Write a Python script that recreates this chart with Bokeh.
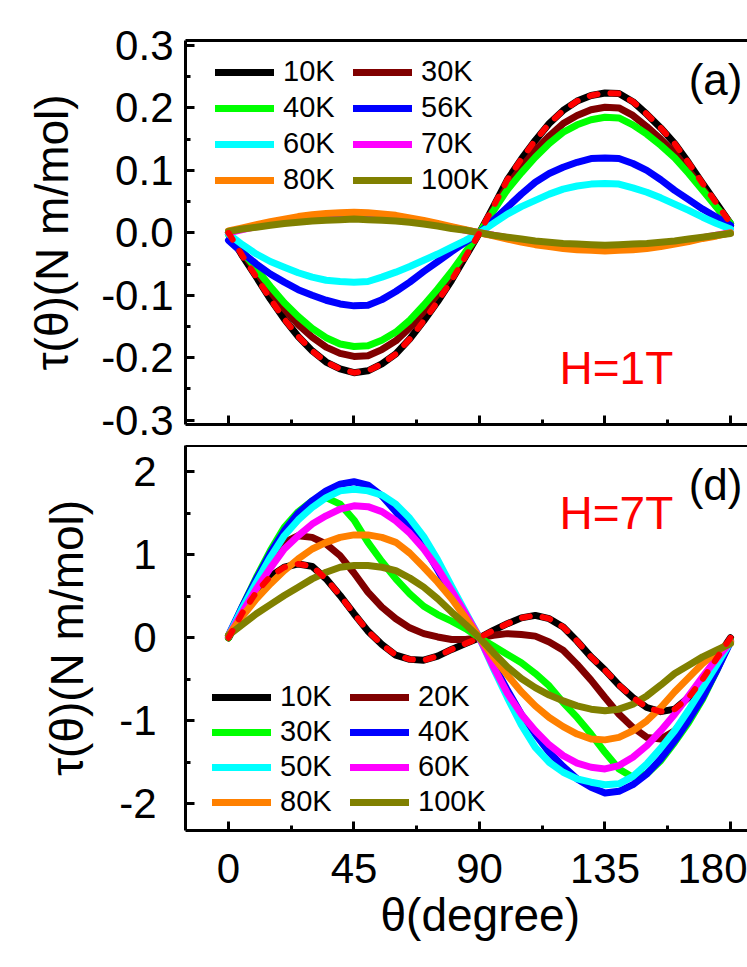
from bokeh.plotting import figure
from bokeh.models import (Range1d, FixedTicker, LinearAxis, Legend, LegendItem, Label,
                          CustomJSTickFormatter, Title)
from bokeh.layouts import column
from bokeh.embed import file_html
from bokeh.resources import INLINE

# ---------------- data ----------------
theta = [0, 5, 10, 15, 20, 25, 30, 35, 40, 45, 50, 55, 60, 65, 70, 75, 80, 85, 90,
         95, 100, 105, 110, 115, 120, 125, 130, 135, 140, 145, 150, 155, 160, 165, 170, 175, 180]

# H = 1T panel (a)
labels_1T = ["10K", "30K", "40K", "56K", "60K", "70K", "80K", "100K"]
t1_10K = [0.000, -0.037, -0.071, -0.106, -0.138, -0.166, -0.189, -0.207, -0.218, -0.224, -0.221, -0.210, -0.194, -0.170, -0.141, -0.110, -0.076, -0.038, 0.000,
          0.042, 0.085, 0.118, 0.148, 0.175, 0.196, 0.211, 0.220, 0.224, 0.223, 0.210, 0.190, 0.168, 0.143, 0.112, 0.079, 0.047, 0.015]
t1_30K = [0.000, -0.032, -0.063, -0.094, -0.122, -0.147, -0.167, -0.183, -0.193, -0.198, -0.197, -0.187, -0.173, -0.152, -0.126, -0.098, -0.068, -0.034, 0.000,
          0.038, 0.075, 0.105, 0.132, 0.155, 0.175, 0.188, 0.197, 0.201, 0.200, 0.188, 0.170, 0.150, 0.128, 0.100, 0.071, 0.042, 0.012]
t1_40K = [-0.003, -0.030, -0.058, -0.086, -0.112, -0.134, -0.153, -0.168, -0.178, -0.182, -0.181, -0.172, -0.159, -0.140, -0.116, -0.090, -0.062, -0.031, 0.000,
          0.035, 0.069, 0.096, 0.121, 0.143, 0.161, 0.173, 0.181, 0.185, 0.184, 0.173, 0.158, 0.140, 0.120, 0.095, 0.068, 0.041, 0.015]
t1_56K = [-0.012, -0.032, -0.050, -0.066, -0.079, -0.091, -0.100, -0.108, -0.114, -0.117, -0.116, -0.107, -0.094, -0.079, -0.062, -0.046, -0.030, -0.015, 0.000,
          0.020, 0.041, 0.062, 0.081, 0.095, 0.105, 0.113, 0.119, 0.120, 0.119, 0.111, 0.100, 0.085, 0.068, 0.053, 0.038, 0.025, 0.012]
t1_60K = [-0.002, -0.019, -0.034, -0.046, -0.055, -0.064, -0.071, -0.076, -0.078, -0.079, -0.078, -0.071, -0.063, -0.054, -0.044, -0.034, -0.023, -0.012, 0.000,
          0.015, 0.030, 0.042, 0.052, 0.062, 0.070, 0.075, 0.078, 0.079, 0.078, 0.072, 0.065, 0.056, 0.046, 0.036, 0.025, 0.015, 0.006]
t1_70K = [0.000, 0.005, 0.010, 0.014, 0.018, 0.021, 0.024, 0.026, 0.027, 0.028, 0.027, 0.026, 0.024, 0.021, 0.017, 0.013, 0.009, 0.004, 0.000,
          -0.004, -0.008, -0.012, -0.016, -0.019, -0.022, -0.024, -0.025, -0.026, -0.025, -0.024, -0.022, -0.019, -0.016, -0.012, -0.008, -0.004, 0.000]
t1_80K = [0.003, 0.008, 0.013, 0.018, 0.022, 0.026, 0.029, 0.031, 0.032, 0.033, 0.032, 0.030, 0.028, 0.024, 0.020, 0.015, 0.010, 0.005, 0.000,
          -0.005, -0.010, -0.015, -0.019, -0.022, -0.025, -0.027, -0.028, -0.029, -0.028, -0.027, -0.025, -0.022, -0.018, -0.014, -0.009, -0.005, 0.000]
t1_100K = [0.002, 0.006, 0.009, 0.012, 0.015, 0.017, 0.019, 0.020, 0.021, 0.022, 0.021, 0.020, 0.019, 0.017, 0.014, 0.011, 0.007, 0.004, 0.000,
           -0.004, -0.007, -0.010, -0.013, -0.015, -0.017, -0.018, -0.019, -0.020, -0.019, -0.018, -0.017, -0.015, -0.013, -0.010, -0.007, -0.004, -0.001]
fit_1T = t1_10K  # red dashed fit follows the 10K curve

# H = 7T panel (d)
labels_7T = ["10K", "20K", "30K", "40K", "50K", "60K", "80K", "100K"]
t7_10K = [0.00, 0.30, 0.55, 0.74, 0.85, 0.89, 0.86, 0.71, 0.51, 0.29, 0.08, -0.08, -0.21, -0.26, -0.27, -0.22, -0.14, -0.07, 0.00,
          0.09, 0.17, 0.24, 0.27, 0.23, 0.13, -0.04, -0.23, -0.39, -0.57, -0.72, -0.84, -0.89, -0.86, -0.72, -0.50, -0.25, 0.00]
t7_20K = [0.00, 0.33, 0.62, 0.92, 1.15, 1.23, 1.21, 1.13, 0.99, 0.78, 0.55, 0.37, 0.23, 0.12, 0.05, 0.01, -0.02, -0.02, 0.00,
          0.03, 0.05, 0.04, 0.02, -0.05, -0.15, -0.32, -0.51, -0.72, -0.92, -1.08, -1.20, -1.22, -1.12, -0.92, -0.62, -0.32, -0.03]
t7_30K = [0.00, 0.38, 0.73, 1.05, 1.33, 1.52, 1.65, 1.69, 1.61, 1.42, 1.15, 0.92, 0.71, 0.53, 0.38, 0.28, 0.20, 0.11, 0.00,
          -0.10, -0.20, -0.30, -0.43, -0.58, -0.78, -0.96, -1.16, -1.38, -1.58, -1.68, -1.64, -1.48, -1.26, -1.02, -0.74, -0.40, -0.03]
t7_40K = [0.03, 0.38, 0.71, 1.02, 1.29, 1.50, 1.65, 1.77, 1.85, 1.88, 1.84, 1.71, 1.52, 1.32, 1.10, 0.82, 0.52, 0.26, 0.00,
          -0.32, -0.63, -0.92, -1.16, -1.38, -1.55, -1.70, -1.80, -1.87, -1.85, -1.77, -1.64, -1.46, -1.24, -0.99, -0.72, -0.40, -0.05]
t7_50K = [0.02, 0.36, 0.67, 0.97, 1.23, 1.42, 1.57, 1.69, 1.77, 1.79, 1.77, 1.72, 1.61, 1.44, 1.22, 0.94, 0.62, 0.31, 0.00,
          -0.37, -0.72, -1.05, -1.32, -1.50, -1.62, -1.70, -1.74, -1.77, -1.76, -1.67, -1.52, -1.33, -1.12, -0.87, -0.60, -0.33, -0.05]
t7_60K = [0.02, 0.31, 0.59, 0.84, 1.07, 1.23, 1.37, 1.47, 1.55, 1.59, 1.58, 1.52, 1.41, 1.26, 1.07, 0.84, 0.57, 0.29, 0.00,
          -0.35, -0.67, -0.92, -1.12, -1.29, -1.42, -1.51, -1.56, -1.58, -1.54, -1.44, -1.30, -1.12, -0.92, -0.70, -0.47, -0.25, -0.05]
t7_80K = [0.03, 0.26, 0.47, 0.65, 0.81, 0.95, 1.07, 1.15, 1.21, 1.24, 1.24, 1.21, 1.15, 1.02, 0.85, 0.67, 0.47, 0.24, 0.00,
          -0.23, -0.45, -0.65, -0.82, -0.96, -1.07, -1.16, -1.22, -1.23, -1.20, -1.12, -1.00, -0.84, -0.65, -0.48, -0.31, -0.17, -0.05]
t7_100K = [0.03, 0.16, 0.29, 0.40, 0.51, 0.61, 0.71, 0.79, 0.85, 0.87, 0.87, 0.85, 0.81, 0.72, 0.61, 0.47, 0.31, 0.16, 0.00,
           -0.18, -0.35, -0.49, -0.60, -0.69, -0.76, -0.82, -0.86, -0.88, -0.86, -0.80, -0.70, -0.57, -0.43, -0.33, -0.23, -0.15, -0.07]
fit_7T = t7_10K  # red dashed fit follows the 10K curve

colors_1T = ["#000000", "#800000", "#00FF00", "#0000FF", "#00FFFF", "#FF00FF", "#FF8000", "#808000"]
colors_7T = ["#000000", "#800000", "#00FF00", "#0000FF", "#00FFFF", "#FF00FF", "#FF8000", "#808000"]

x_ticks = [0, 45, 90, 135, 180]
x_minor = [22.5, 67.5, 112.5, 157.5]
x_tick_labels = ["0", "45", "90", "135", "180"]
y1_ticks = [-0.3, -0.2, -0.1, 0.0, 0.1, 0.2, 0.3]
y1_minor = [-0.25, -0.15, -0.05, 0.05, 0.15, 0.25]
y1_tick_labels = ["-0.3", "-0.2", "-0.1", "0.0", "0.1", "0.2", "0.3"]
y7_ticks = [-2, -1, 0, 1, 2]
y7_minor = [-1.5, -0.5, 0.5, 1.5]
y7_tick_labels = ["-2", "-1", "0", "1", "2"]

FONT = "Liberation Sans"
LW = 7


def style_axes(p, ylab_standoff, ylab_axis_standoff):
    p.outline_line_color = None
    p.grid.visible = False
    p.background_fill_color = "white"
    p.border_fill_color = "white"
    for ax in p.xaxis + p.yaxis:
        ax.axis_line_width = 3
        ax.major_tick_line_width = 3
        ax.minor_tick_line_width = 3
        ax.major_tick_in = 9
        ax.major_tick_out = 0
        ax.minor_tick_in = 5
        ax.minor_tick_out = 0
        ax.major_label_text_font = FONT
        ax.major_label_text_font_size = "42px"
        ax.major_label_text_color = "black"
        ax.axis_label_text_font = FONT
        ax.axis_label_text_font_style = "normal"
        ax.axis_label_text_font_size = "46px"
        ax.axis_label_text_color = "black"
    p.yaxis.major_label_standoff = ylab_standoff
    p.yaxis.axis_label_standoff = ylab_axis_standoff
    top = LinearAxis(ticker=FixedTicker(ticks=[]), major_tick_in=0, major_tick_out=0,
                     minor_tick_in=0, minor_tick_out=0, axis_line_width=3,
                     major_label_text_font_size="1px", major_label_text_color=None,
                     major_label_standoff=0)
    p.add_layout(top, "above")


def make_legend(renderers, labels, vx, vy, spacing):
    items = [LegendItem(label=l, renderers=[r]) for l, r in zip(labels, renderers)]
    return Legend(items=items, location=(vx, vy), orientation="vertical",
                  glyph_width=59, glyph_height=30, label_height=30, spacing=spacing,
                  label_standoff=9, padding=0, margin=0, border_line_color=None,
                  background_fill_alpha=0, label_text_font=FONT,
                  label_text_font_size="29px", label_text_color="black")


X_RANGE = (-15.42, 186.1)

# ---------------- panel (a): H = 1T ----------------
p1 = figure(width=747, height=445, output_backend="svg", toolbar_location=None,
            x_range=Range1d(*X_RANGE), y_range=Range1d(-0.307, 0.308),
            min_border_left=185, min_border_right=0, min_border_top=40, min_border_bottom=21)
p1.xaxis.ticker = FixedTicker(ticks=x_ticks, minor_ticks=x_minor)
p1.xaxis.formatter = CustomJSTickFormatter(code="return ''")
p1.yaxis.ticker = FixedTicker(ticks=y1_ticks, minor_ticks=y1_minor)
p1.yaxis.major_label_overrides = {t: s for t, s in zip(y1_ticks, y1_tick_labels)}
p1.yaxis.axis_label = "τ(θ)(N m/mol)"
style_axes(p1, 12, 20)
p1.xaxis.major_label_text_font_size = "1px"
p1.xaxis.major_label_text_color = None
p1.xaxis.major_label_standoff = 0

series_1T = [t1_10K, t1_30K, t1_40K, t1_56K, t1_60K, t1_70K, t1_80K, t1_100K]
r1 = []
for ys, c in zip(series_1T, colors_1T):
    r1.append(p1.line(theta, ys, line_color=c, line_width=LW, line_cap="round", line_join="round"))
p1.line(theta, fit_1T, line_color="#FF0000", line_width=6, line_dash="8 13", line_cap="round")

p1.add_layout(make_legend([r1[0], r1[2], r1[4], r1[6]], [labels_1T[0], labels_1T[2], labels_1T[4], labels_1T[6]], 30, 228, 3), "center")
p1.add_layout(make_legend([r1[1], r1[3], r1[5], r1[7]], [labels_1T[1], labels_1T[3], labels_1T[5], labels_1T[7]], 168, 228, 3), "center")

p1.add_layout(Label(x=184.3, y=0.245, text="(a)", text_align="right", text_baseline="middle",
                    text_font=FONT, text_font_size="44px", text_color="black"))
p1.add_layout(Label(x=118.7, y=-0.217, text="H=1T", text_align="left", text_baseline="middle",
                    text_font=FONT, text_font_size="46px", text_color="#FF0000"))

# ---------------- panel (d): H = 7T ----------------
p2 = figure(width=747, height=520, output_backend="svg", toolbar_location=None,
            x_range=Range1d(*X_RANGE), y_range=Range1d(-2.322, 2.317),
            min_border_left=185, min_border_right=0, min_border_top=0, min_border_bottom=135)
p2.xaxis.ticker = FixedTicker(ticks=x_ticks, minor_ticks=x_minor)
p2.xaxis.major_label_overrides = {t: s for t, s in zip(x_ticks, x_tick_labels)}
p2.yaxis.ticker = FixedTicker(ticks=y7_ticks, minor_ticks=y7_minor)
p2.yaxis.major_label_overrides = {t: s for t, s in zip(y7_ticks, y7_tick_labels)}
p2.yaxis.axis_label = "τ(θ)(N m/mol)"
style_axes(p2, 29, 23)
p2.xaxis.major_label_standoff = 23

series_7T = [t7_10K, t7_20K, t7_30K, t7_40K, t7_50K, t7_60K, t7_80K, t7_100K]
r2 = []
for ys, c in zip(series_7T, colors_7T):
    r2.append(p2.line(theta, ys, line_color=c, line_width=LW, line_cap="round", line_join="round"))
p2.line(theta, fit_7T, line_color="#FF0000", line_width=6, line_dash="8 13", line_cap="round")

p2.add_layout(make_legend([r2[0], r2[2], r2[4], r2[6]], [labels_7T[0], labels_7T[2], labels_7T[4], labels_7T[6]], 27, 12, 2), "center")
p2.add_layout(make_legend([r2[1], r2[3], r2[5], r2[7]], [labels_7T[1], labels_7T[3], labels_7T[5], labels_7T[7]], 165, 12, 2), "center")

p2.add_layout(Label(x=184.3, y=1.85, text="(d)", text_align="right", text_baseline="middle",
                    text_font=FONT, text_font_size="44px", text_color="black"))
p2.add_layout(Label(x=118.7, y=1.50, text="H=7T", text_align="left", text_baseline="middle",
                    text_font=FONT, text_font_size="46px", text_color="#FF0000"))
# x-axis title, positioned under the full (cropped) frame as in the reference
p2.add_layout(Title(text="θ(degree)", align="left", offset=195, standoff=2,
                    text_font=FONT, text_font_size="46px", text_font_style="normal",
                    text_color="black"), "below")

layout = column(p1, p2, spacing=0)
open("out.html", "w").write(file_html(layout, INLINE))
